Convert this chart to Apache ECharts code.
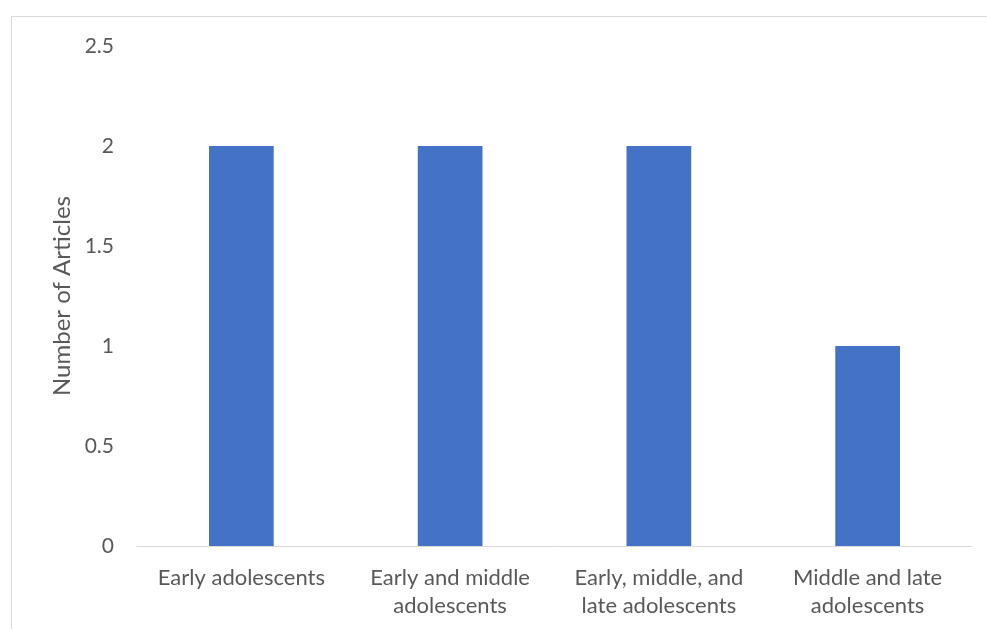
<!DOCTYPE html>
<html>
<head>
<meta charset="utf-8">
<script src="https://cdn.jsdelivr.net/npm/echarts@6/dist/echarts.min.js"></script>
<style>
  html, body { margin: 0; padding: 0; background: #fff; }
  #chart { width: 987px; height: 629px; }
</style>
</head>
<body>
<div id="chart"></div>
<script>
// Age groups covered by the reviewed articles
const categories = [
  'Early adolescents',
  'Early and middle\nadolescents',
  'Early, middle, and\nlate adolescents',
  'Middle and late\nadolescents'
];
const articleCounts = [2, 2, 2, 1];
const yTicks = { min: 0, max: 2.5, step: 0.5 };

const textColor = '#595959';
const fontFamily = 'Lato, Open Sans, sans-serif';

const chart = echarts.init(document.getElementById('chart'));
chart.setOption({
  backgroundColor: '#ffffff',
  animation: false,
  graphic: [{
    type: 'rect',
    shape: { x: 11.5, y: 16.5, width: 1000, height: 700 },
    style: { fill: 'none', stroke: '#d9d9d9', lineWidth: 1 },
    silent: true
  }],
  grid: { left: 137, right: 15, top: 46, bottom: 83 },
  xAxis: {
    type: 'category',
    data: categories,
    axisLine: { lineStyle: { color: '#d9d9d9', width: 1 } },
    axisTick: { show: false },
    axisLabel: {
      color: textColor, fontFamily, fontSize: 22, lineHeight: 28,
      margin: 18, interval: 0
    }
  },
  yAxis: {
    type: 'value',
    min: yTicks.min, max: yTicks.max, interval: yTicks.step,
    name: 'Number of Articles',
    nameLocation: 'middle',
    nameGap: 63,
    nameTextStyle: { color: textColor, fontFamily, fontSize: 24 },
    axisLine: { show: false },
    axisTick: { show: false },
    splitLine: { show: false },
    axisLabel: { color: textColor, fontFamily, fontSize: 21, margin: 23 }
  },
  series: [{
    type: 'bar',
    data: articleCounts,
    barWidth: '31%',
    itemStyle: { color: '#4472c4' }
  }]
});
</script>
</body>
</html>
